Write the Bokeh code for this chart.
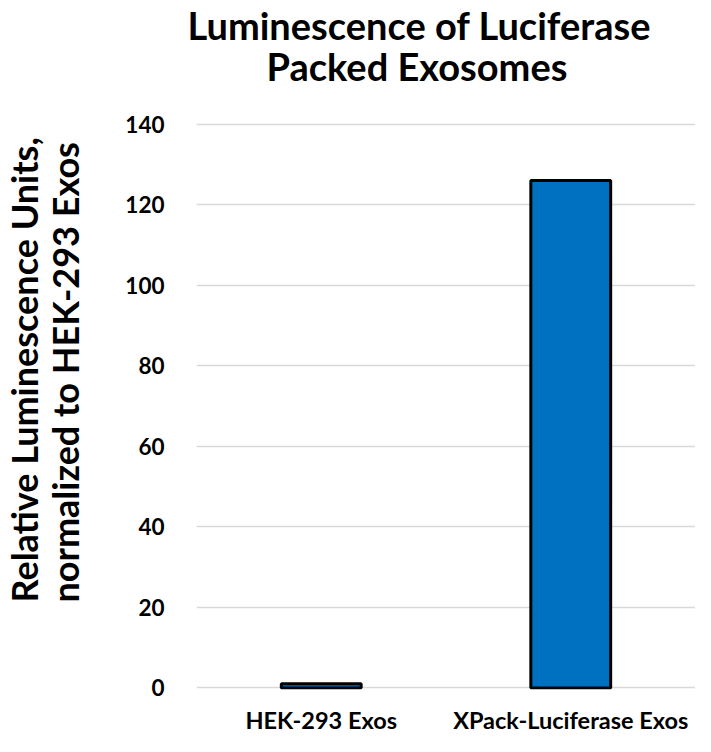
from bokeh.plotting import figure
from bokeh.models import Range1d, FactorRange, Title, SingleIntervalTicker
from bokeh.embed import file_html
from bokeh.resources import INLINE

# ---- data ----
categories = ["HEK-293 Exos", "XPack-Luciferase Exos"]
values = [1, 126]
title_lines = ["Luminescence of Luciferase", "Packed Exosomes"]
ylabel_lines = ["Relative Luminescence Units,", "normalized to HEK-293 Exos"]
y_max = 140
y_step = 20

FONT = "Lato"
BAR_BLUE = "#0070C0"

W, H = 695, 736
LEFT, TOP, BOTTOM, RIGHT = 196, 122, 46, 0

p = figure(width=W, height=H, output_backend="svg", toolbar_location=None,
           x_range=FactorRange(factors=categories, range_padding=0),
           y_range=Range1d(-0.4, y_max + 0.4),
           min_border_left=LEFT, min_border_top=TOP,
           min_border_bottom=BOTTOM, min_border_right=RIGHT, title=None)
p.outline_line_color = None
p.background_fill_color = "white"
p.border_fill_color = "white"

p.vbar(x=categories, top=values, width=0.32, bottom=0,
       fill_color=BAR_BLUE, line_color="black", line_width=3)

# x axis
p.xaxis.axis_line_color = None
p.xaxis.major_tick_line_color = None
p.xaxis.minor_tick_line_color = None
p.xaxis.major_tick_out = 0
p.xaxis.major_label_standoff = 16
p.xaxis.major_label_text_font = FONT
p.xaxis.major_label_text_font_style = "bold"
p.xaxis.major_label_text_font_size = "23.5px"
p.xaxis.major_label_text_color = "black"
p.xgrid.grid_line_color = None

# y axis
p.ygrid.grid_line_color = "#d9d9d9"
p.ygrid.grid_line_width = 1.5
p.yaxis.ticker = SingleIntervalTicker(interval=y_step)
p.yaxis.axis_line_color = None
p.yaxis.major_tick_line_color = None
p.yaxis.minor_tick_line_color = None
p.yaxis.major_tick_out = 0
p.yaxis.major_label_standoff = 28
p.yaxis.major_label_text_font = FONT
p.yaxis.major_label_text_font_style = "bold"
p.yaxis.major_label_text_font_size = "22.5px"
p.yaxis.major_label_text_color = "black"


def mk_title(text, offset, standoff, size):
    t = Title(text=text, align="left", offset=offset, standoff=0,
              text_font=FONT, text_font_style="bold", text_font_size=size,
              text_color="black")
    try:
        t.standoff = standoff
    except Exception:
        t.standoff = 0
    return t

# title: stacked outward from the frame
p.add_layout(mk_title(title_lines[1], 70, 68, "38px"), "above")
p.add_layout(mk_title(title_lines[0], -9, -82, "38px"), "above")

# y label lines as left-side titles: stacked outward from the axis
p.add_layout(mk_title(ylabel_lines[1], 87, 72, "36px"), "left")
p.add_layout(mk_title(ylabel_lines[0], 87, -82, "36px"), "left")

open("out.html", "w").write(file_html(p, INLINE))
